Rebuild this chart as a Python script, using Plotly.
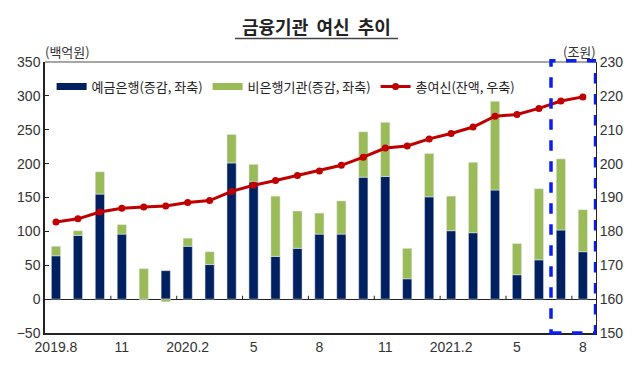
import plotly.graph_objects as go

months = ["2019.8", "9", "10", "11", "12", "2020.1", "2020.2", "3", "4", "5", "6", "7", "8",
          "9", "10", "11", "12", "2021.1", "2021.2", "3", "4", "5", "6", "7", "8"]
bank = [64, 94, 155, 96, 0, 42, 78, 51, 201, 173, 63, 75, 96,
        96, 180, 181, 30, 151, 101, 98, 161, 36, 58, 102, 70]
nonbank = [14, 7, 33, 14, 45, -4, 12, 19, 42, 26, 89, 55, 31,
           49, 67, 80, 45, 64, 51, 104, 131, 46, 105, 105, 62]
total = [182.8, 183.7, 185.7, 186.8, 187.2, 187.5, 188.5, 189.1, 191.8, 193.6, 195.0, 196.5, 197.8,
         199.5, 201.9, 204.6, 205.2, 207.3, 208.9, 210.8, 214.0, 214.5, 216.3, 218.5, 219.7]
tick_labels = ["2019.8", "11", "2020.2", "5", "8", "11", "2021.2", "5", "8"]

NAVY = "#002060"
GREEN = "#9bbb59"
RED = "#c00000"
KFONT = "Noto Sans CJK KR"
NFONT = "Liberation Sans"

x = list(range(len(months)))

fig = go.Figure()
fig.add_trace(go.Bar(x=x, y=bank, marker_color=NAVY, width=0.42, name="예금은행(증감, 좌축)",
                     showlegend=False, yaxis="y"))
fig.add_trace(go.Bar(x=x, y=nonbank, marker_color=GREEN, width=0.42, name="비은행기관(증감, 좌축)",
                     showlegend=False, yaxis="y"))
fig.add_trace(go.Scatter(x=x, y=total, mode="lines+markers", yaxis="y2",
                         line=dict(color=RED, width=3), marker=dict(color=RED, size=7),
                         name="총여신(잔액, 우축)", showlegend=False))

# legend proxies
fig.add_trace(go.Scatter(x=[None], y=[None], mode="lines", line=dict(color=NAVY, width=7),
                         name="예금은행(증감, 좌축)"))
fig.add_trace(go.Scatter(x=[None], y=[None], mode="lines", line=dict(color=GREEN, width=7),
                         name="비은행기관(증감, 좌축)"))
fig.add_trace(go.Scatter(x=[None], y=[None], mode="lines+markers", line=dict(color=RED, width=3),
                         marker=dict(color=RED, size=7), name="총여신(잔액, 우축)"))

tickvals = list(range(0, len(months), 3))

fig.update_layout(
    width=640, height=381,
    margin=dict(l=45, r=44, t=62, b=48),
    paper_bgcolor="white", plot_bgcolor="white",
    barmode="relative",
    font=dict(family=NFONT, size=14, color="#333"),
    legend=dict(orientation="h", x=0.012, y=0.965, xanchor="left", yanchor="top",
                font=dict(family=KFONT, size=13, color="#222"), bgcolor="rgba(0,0,0,0)",
                itemwidth=30, tracegroupgap=0),
    xaxis=dict(range=[-0.5, 24.6], tickvals=tickvals, ticktext=tick_labels, ticks="",
               showline=True, linecolor="#222", linewidth=1.5, showgrid=False, zeroline=False,
               tickfont=dict(family=NFONT, size=14, color="#333")),
    yaxis=dict(range=[-50, 350], dtick=50, ticks="inside", ticklen=4, tickcolor="#222",
               showline=True, linecolor="#222", linewidth=1.5, showgrid=False,
               zeroline=True, zerolinecolor="#222", zerolinewidth=1, automargin=False,
               tickfont=dict(family=NFONT, size=14, color="#333")),
    yaxis2=dict(range=[150, 230], dtick=10, overlaying="y", side="right", ticks="",
                showline=True, linecolor="#222", linewidth=1, showgrid=False, zeroline=False,
                automargin=False,
                tickfont=dict(family=NFONT, size=14, color="#333")),
)

# top border
fig.add_shape(type="line", xref="paper", yref="paper", x0=0, x1=1, y0=1, y1=1,
              line=dict(color="#888", width=1.5))
# minor ticks on the zero line between groups
for v in tickvals[1:]:
    fig.add_shape(type="line", xref="x", yref="y", x0=v - 0.5, x1=v - 0.5, y0=0, y1=5,
                  line=dict(color="#222", width=1))

# dashed highlight around last two months
fig.add_shape(type="rect", xref="x", yref="paper", x0=len(months) - 2.45, x1=len(months) - 0.42,
              y0=0, y1=1.005, line=dict(color="#0a1ef0", width=3.5, dash="dash"))

# title with underline
fig.add_annotation(text="<b>금융기관  여신  추이</b>", xref="paper", yref="paper",
                   x=(316 - 45) / 551, y=1 + (62 - 26) / 271, showarrow=False,
                   xanchor="center", yanchor="middle",
                   font=dict(family=KFONT, size=18, color="#222"))
fig.add_shape(type="line", xref="paper", yref="paper",
              x0=(235 - 45) / 551, x1=(398 - 45) / 551,
              y0=1 + (62 - 38.5) / 271, y1=1 + (62 - 38.5) / 271,
              line=dict(color="#444", width=1.5))

fig.add_annotation(text="(백억원)", xref="paper", yref="paper", x=(67 - 45) / 551,
                   y=1 + (62 - 51) / 271, showarrow=False, xanchor="center", yanchor="middle",
                   font=dict(family=KFONT, size=13, color="#333"))
fig.add_annotation(text="(조원)", xref="paper", yref="paper", x=(579 - 45) / 551,
                   y=1 + (62 - 51) / 271, showarrow=False, xanchor="center", yanchor="middle",
                   font=dict(family=KFONT, size=13, color="#333"))

fig.write_html("out.html", config={"displayModeBar": False},
               post_script="document.body.style.margin='0';")
